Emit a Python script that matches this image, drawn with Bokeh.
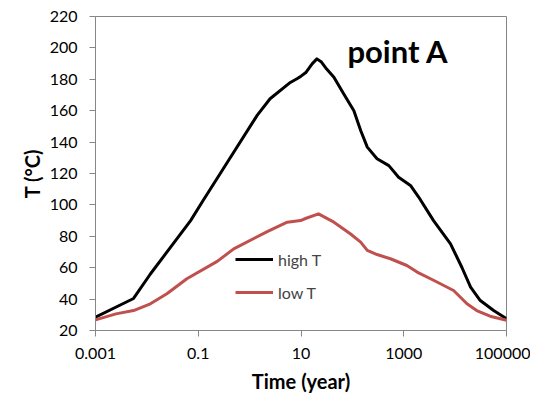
from bokeh.plotting import figure
from bokeh.models import Legend, LegendItem, Label, FixedTicker, CustomJSTickFormatter
from bokeh.embed import file_html
from bokeh.resources import INLINE

# ---- data ----
time_high = [0.001, 0.0055, 0.0117, 0.071, 0.12, 0.32, 1.4, 2.5, 6.2, 8.5, 10, 12.6,
             16.6, 20.4, 25, 31.6, 43.7, 67.6, 107, 145, 195, 302, 513, 794, 1350,
             1950, 3800, 8130, 13500, 20000, 30900, 56200, 100000]
temp_high = [28.5, 40.4, 56, 90, 102, 124, 157, 167.6, 178, 180.5, 182, 184.5,
             190, 193, 191, 186.5, 181.3, 170.8, 160, 147.4, 136.8, 129.4, 125, 117.6, 112.4,
             105, 90, 75.2, 60.3, 47.6, 39.1, 32.7, 27.5]

time_low = [0.001, 0.0025, 0.0055, 0.0117, 0.0245, 0.06, 0.234, 0.49, 2.2, 5.4, 9.8, 12.6,
            21.9, 43.7, 91, 145, 195, 302, 550, 1150, 1820, 3800, 9330, 17000,
            26300, 47900, 100000]
temp_low = [26.8, 30.6, 32.7, 37, 43.4, 53, 64, 72, 83, 89, 90, 91.5,
            94.3, 89, 81.6, 76.3, 71, 68.4, 65.7, 61.4, 57.2, 52, 45.5, 37,
            32.7, 29.1, 26.5]

x_ticks = [0.001, 0.1, 10, 1000, 100000]
y_ticks = [20, 40, 60, 80, 100, 120, 140, 160, 180, 200, 220]
series_names = ["high T", "low T"]
series_colors = ["#000000", "#C0504D"]

FONT = "Lato"
AXIS_GRAY = "#868686"

p = figure(width=530, height=396, x_axis_type="log",
           x_range=(0.001, 100000), y_range=(20, 220),
           output_backend="svg", toolbar_location=None,
           min_border_left=95, min_border_right=24,
           min_border_top=16, min_border_bottom=66)

p.xgrid.visible = False
p.ygrid.visible = False
p.outline_line_color = AXIS_GRAY
p.outline_line_width = 1
p.background_fill_color = "white"
p.border_fill_color = "white"

r_high = p.line(time_high, temp_high, line_color=series_colors[0], line_width=3,
                line_join="round")
r_low = p.line(time_low, temp_low, line_color=series_colors[1], line_width=3,
               line_join="round")

# axes
xa = p.xaxis[0]
xa.ticker = FixedTicker(ticks=x_ticks, minor_ticks=[])
xa.formatter = CustomJSTickFormatter(code="return tick.toString();")
ya = p.yaxis[0]
ya.ticker = FixedTicker(ticks=y_ticks, minor_ticks=[])

for ax in (xa, ya):
    ax.axis_line_color = AXIS_GRAY
    ax.major_tick_line_color = AXIS_GRAY
    ax.major_tick_in = 0
    ax.major_tick_out = 6
    ax.minor_tick_in = 0
    ax.minor_tick_out = 0
    ax.major_label_text_font = FONT
    ax.major_label_text_font_size = "16px"
    ax.major_label_text_color = "black"
    ax.axis_label_text_font = FONT
    ax.axis_label_text_font_style = "bold"
    ax.axis_label_text_font_size = "20px"
    ax.axis_label_text_color = "black"

xa.axis_label = "Time (year)"
xa.major_label_standoff = 11
xa.axis_label_standoff = 7
ya.axis_label = "T (°C)"
ya.major_label_standoff = 12
ya.axis_label_standoff = 3

legend = Legend(items=[LegendItem(label=series_names[0], renderers=[r_high]),
                       LegendItem(label=series_names[1], renderers=[r_low])],
                location=(140, 28), border_line_color=None,
                background_fill_alpha=0, padding=0, margin=0, spacing=13,
                glyph_width=38, glyph_height=20, label_height=20, label_standoff=5,
                label_text_font=FONT, label_text_font_size="16px")
p.add_layout(legend)

p.add_layout(Label(x=80, y=198, text="point A", text_font=FONT,
                   text_font_style="bold", text_font_size="31px",
                   text_align="left", text_baseline="alphabetic", text_color="black"))

open("out.html", "w").write(file_html(p, INLINE))
